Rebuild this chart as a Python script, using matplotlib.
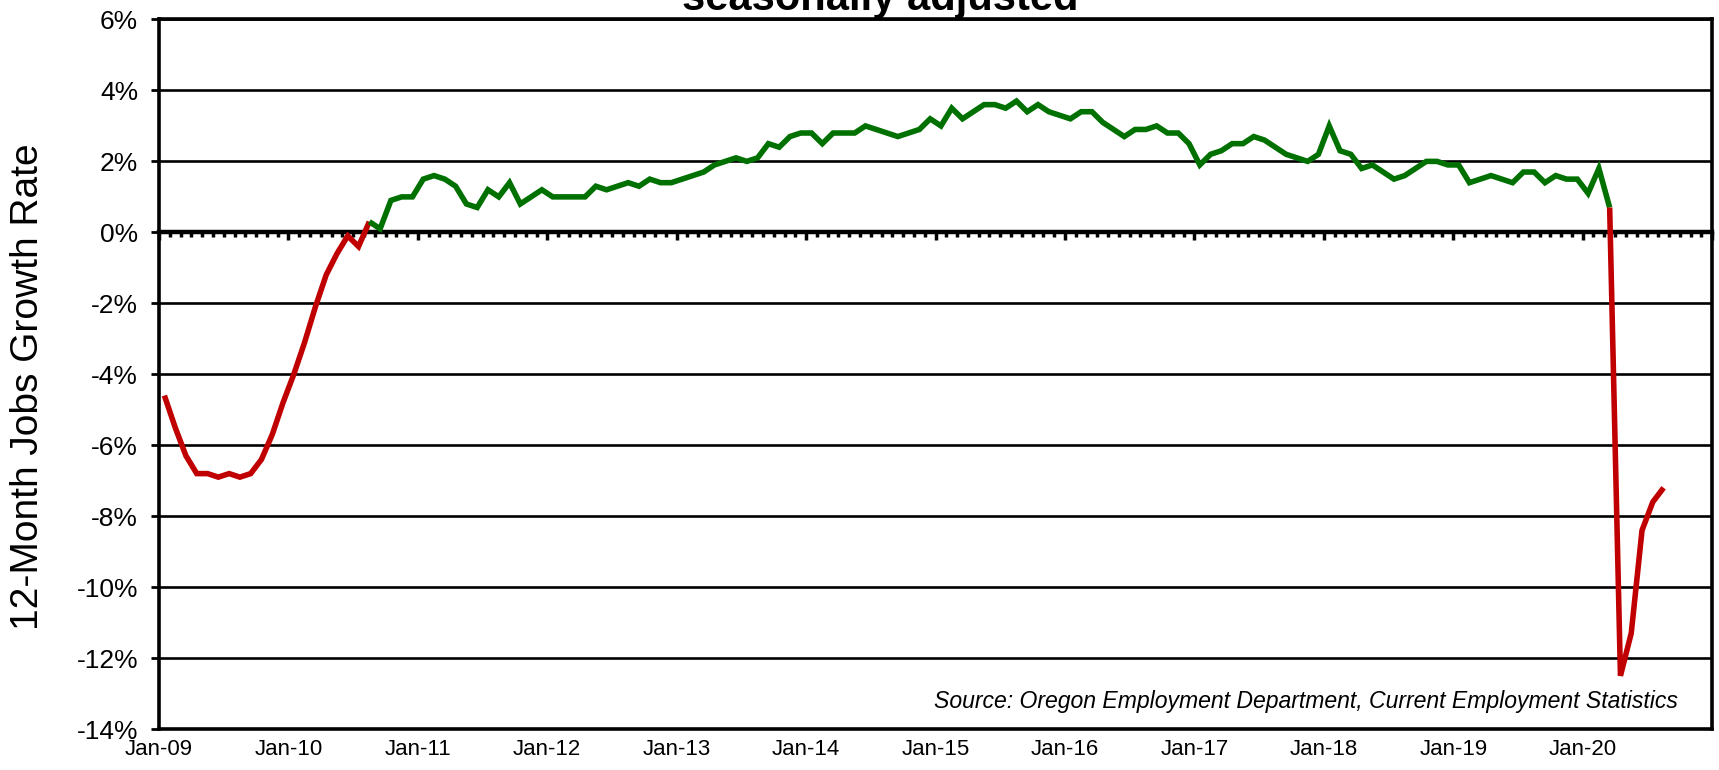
import numpy as np
import matplotlib
matplotlib.use("Agg")
import matplotlib.pyplot as plt
from matplotlib import font_manager

plt.rcParams['font.family'] = ['Liberation Sans', 'DejaVu Sans']

# ---- data: 12-month job growth (%), monthly Jan-2009 .. Aug-2020 ----
growth = [
    -4.6, -5.5, -6.3, -6.8, -6.8, -6.9, -6.8, -6.9, -6.8, -6.4, -5.7, -4.8,   # 2009
    -4.0, -3.1, -2.1, -1.2, -0.6, -0.1, -0.4, 0.3, 0.1, 0.9, 1.0, 1.0,        # 2010
    1.5, 1.6, 1.5, 1.3, 0.8, 0.7, 1.2, 1.0, 1.4, 0.8, 1.0, 1.2,               # 2011
    1.0, 1.0, 1.0, 1.0, 1.3, 1.2, 1.3, 1.4, 1.3, 1.5, 1.4, 1.4,               # 2012
    1.5, 1.6, 1.7, 1.9, 2.0, 2.1, 2.0, 2.1, 2.5, 2.4, 2.7, 2.8,               # 2013
    2.8, 2.5, 2.8, 2.8, 2.8, 3.0, 2.9, 2.8, 2.7, 2.8, 2.9, 3.2,               # 2014
    3.0, 3.5, 3.2, 3.4, 3.6, 3.6, 3.5, 3.7, 3.4, 3.6, 3.4, 3.3,               # 2015
    3.2, 3.4, 3.4, 3.1, 2.9, 2.7, 2.9, 2.9, 3.0, 2.8, 2.8, 2.5,               # 2016
    1.9, 2.2, 2.3, 2.5, 2.5, 2.7, 2.6, 2.4, 2.2, 2.1, 2.0, 2.2,               # 2017
    3.0, 2.3, 2.2, 1.8, 1.9, 1.7, 1.5, 1.6, 1.8, 2.0, 2.0, 1.9,               # 2018
    1.9, 1.4, 1.5, 1.6, 1.5, 1.4, 1.7, 1.7, 1.4, 1.6, 1.5, 1.5,               # 2019
    1.1, 1.8, 0.7, -12.5, -11.3, -8.4, -7.6, -7.2,                            # 2020
]
year_labels = ["Jan-09", "Jan-10", "Jan-11", "Jan-12", "Jan-13", "Jan-14",
               "Jan-15", "Jan-16", "Jan-17", "Jan-18", "Jan-19", "Jan-20"]
y_ticks = [-14, -12, -10, -8, -6, -4, -2, 0, 2, 4, 6]

title_text = "seasonally adjusted"
ylabel_text = "12-Month Jobs Growth Rate"
source_text = "Source: Oregon Employment Department, Current Employment Statistics"

GREEN = "#007000"
RED = "#C00000"

installed = {f.name for f in font_manager.fontManager.ttflist}
narrow = 'Liberation Sans Narrow' in installed

fig = plt.figure(figsize=(17.19, 7.70), dpi=100)
ax = fig.add_axes([0.0925, 0.0532, 0.9035, 0.9215])

vals = np.array(growth, dtype=float)
months = np.arange(len(vals)) + 0.5   # points sit between monthly ticks

# colour each segment: red if it touches a negative value
seg_red = [min(vals[i], vals[i + 1]) < 0 for i in range(len(vals) - 1)]
start = 0
for i in range(1, len(seg_red) + 1):
    if i == len(seg_red) or seg_red[i] != seg_red[start]:
        col = RED if seg_red[start] else GREEN
        ax.plot(months[start:i + 1], vals[start:i + 1], color=col, lw=4.0,
                solid_joinstyle='miter', solid_capstyle='butt', zorder=5)
        start = i

ax.set_xlim(0, 144)
ax.set_ylim(-14, 6)

ax.set_yticks(y_ticks)
ax.set_yticklabels([f"{t}%" for t in y_ticks])
ax.yaxis.grid(True, color='black', lw=1.9)
ax.set_axisbelow(True)
ax.tick_params(axis='y', direction='out', length=6, width=2, pad=9,
               labelsize=19)

ax.set_xticks(np.arange(0, 12 * len(year_labels), 12))
ax.set_xticklabels(year_labels)
ax.tick_params(axis='x', length=0, pad=7, labelsize=19 if narrow else 16)
if narrow:
    for lbl in ax.get_xticklabels():
        lbl.set_family(['Liberation Sans Narrow', 'Liberation Sans'])

for s in ax.spines.values():
    s.set_linewidth(2.6)
    s.set_color('black')

# category axis crossing at 0 with monthly tick marks
sec = ax.secondary_xaxis((0 - (-14)) / 20)
sec.set_alignment('bottom')
sec.set_xticks(np.arange(0, 145, 12))
sec.set_xticks(np.arange(0, 145, 1), minor=True)
sec.tick_params(which='major', direction='out', length=6, width=2.5,
                labelbottom=False)
sec.tick_params(which='minor', direction='out', length=3.5, width=2.5)
sec.spines['bottom'].set_linewidth(3.2)

ax.set_ylabel(ylabel_text, fontsize=28)
ax.yaxis.set_label_coords(-0.0728, 0.483)

fig.text(0.512, 0.987, title_text, ha='center', va='baseline',
         fontsize=30, fontweight='bold')

ax.text(0.978, 0.03, source_text, transform=ax.transAxes, ha='right',
        va='baseline', fontsize=16.6, style='italic')

fig.savefig("out.png", dpi=100)
